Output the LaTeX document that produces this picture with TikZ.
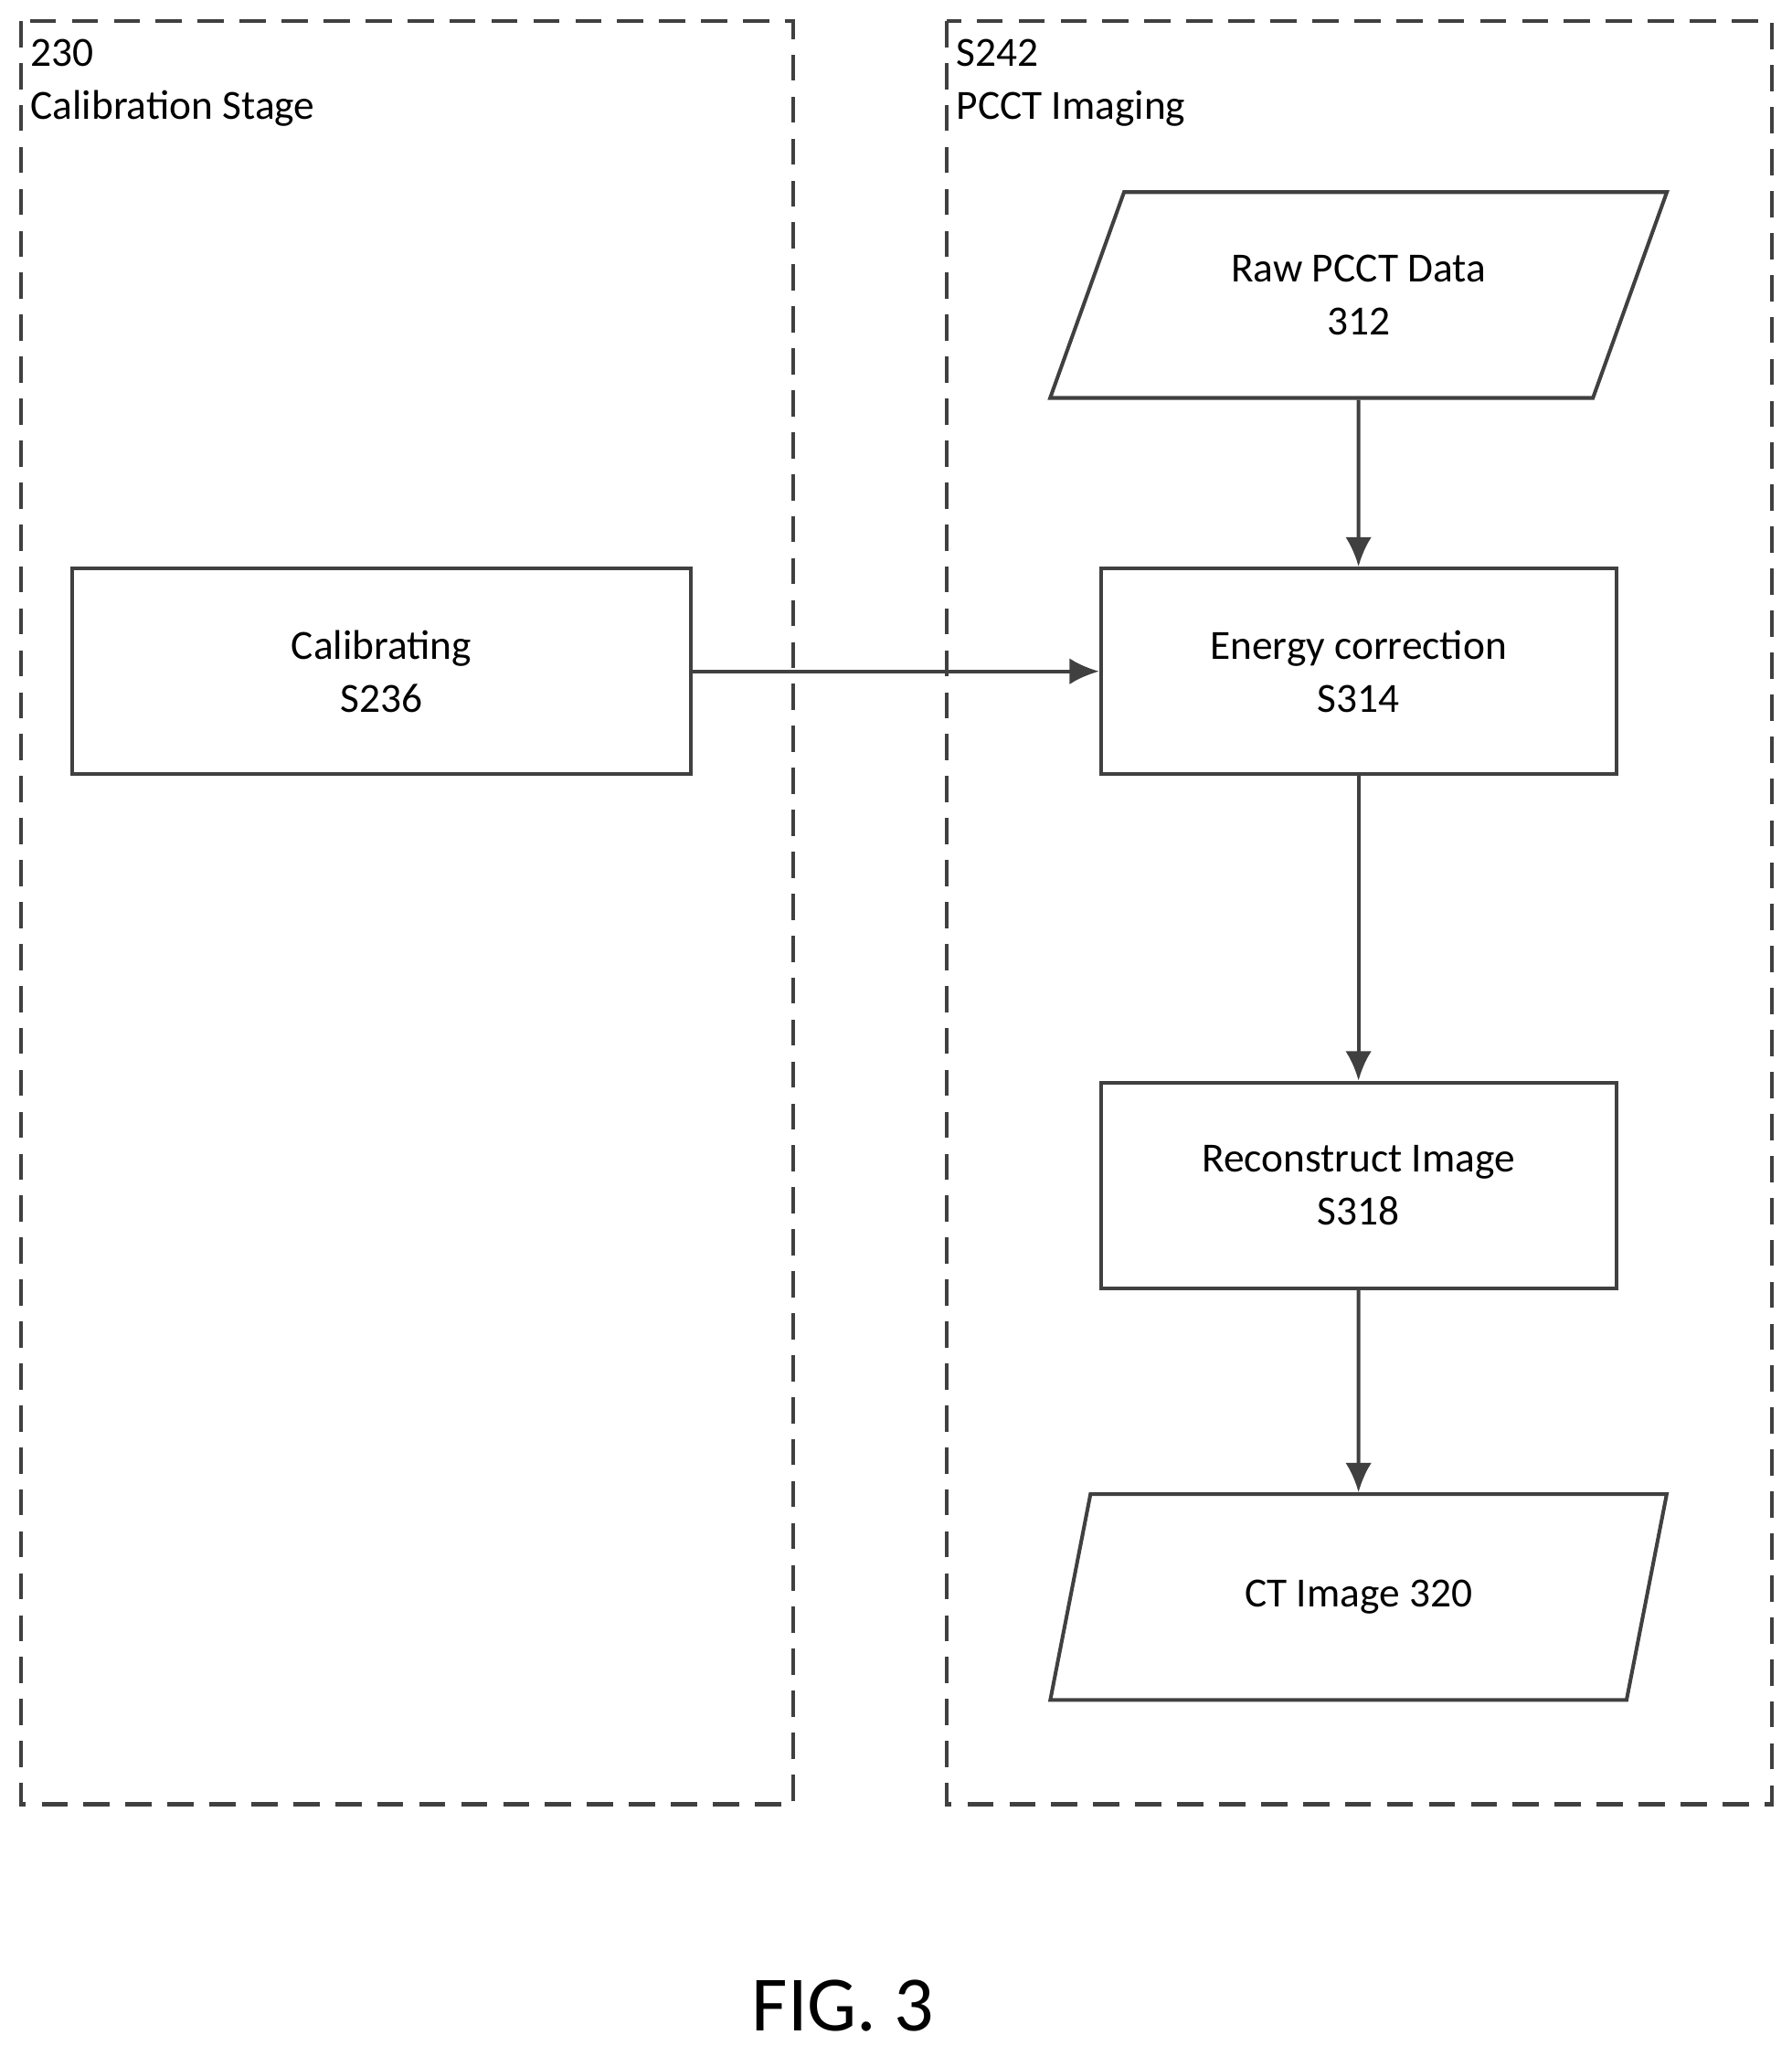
\documentclass[tikz,border=0pt]{standalone}
\usepackage{fontspec}
\setmainfont{Carlito}
\usetikzlibrary{shapes.geometric, arrows.meta}

\tikzset{
	stage/.style = {draw = black!75, line width = 1.6pt, dash pattern = on 0.4cm off 0.24cm},
	block/.style = {draw = black!75, line width = 1.6pt, minimum width = 7.86cm, minimum height = 3.14cm, align = center, font = \fontsize{18}{23}\selectfont},
	data/.style = {block, trapezium, trapezium left angle = 63.4, trapezium right angle = 116.6, trapezium stretches = true, minimum width = 9.42cm, minimum height = 3.14cm, inner sep = 0pt},
	flow/.style = {->, draw = black!75, line width = 1.6pt}
}

\begin{document}
\begin{tikzpicture}[x = 0.02cm, y = -0.02cm, > = {Latex[length = 0.45cm, width = 0.4cm]}]

	\useasboundingbox (0, 0) rectangle (1366, 1568);

	% Stages

	\draw [stage] (16, 16) rectangle (605, 1376);
	\draw [stage] (722, 16) rectangle (1351, 1376);
	\node (calibLabel) [anchor = north west, align = left, inner sep = 0pt, font = \fontsize{18}{23}\selectfont] at (23, 30) {230\\Calibration Stage};
	\node (imagLabel) [anchor = north west, align = left, inner sep = 0pt, font = \fontsize{18}{23}\selectfont] at (729, 30) {S242\\PCCT Imaging};

	% Steps

	\node (raw) [data] at (1036, 225) {Raw PCCT Data\\312};
	\node (energy) [block] at (1036, 512) {Energy correction\\S314};
	\node (recon) [block] at (1036, 904) {Reconstruct Image\\S318};
	\node (ctimg) [data] at (1036, 1218) {CT Image 320};
	\node (calib) [block, minimum width = 9.44cm] at (291, 512) {Calibrating\\S236};

	% Flow

	\draw [flow] (raw) -- (energy);
	\draw [flow] (energy) -- (recon);
	\draw [flow] (recon) -- (ctimg);
	\draw [flow] (calib) -- (energy);

	% Caption

	\node (fig) [font = \fontsize{34}{40}\selectfont] at (643, 1530) {FIG. 3};

\end{tikzpicture}
\end{document}
